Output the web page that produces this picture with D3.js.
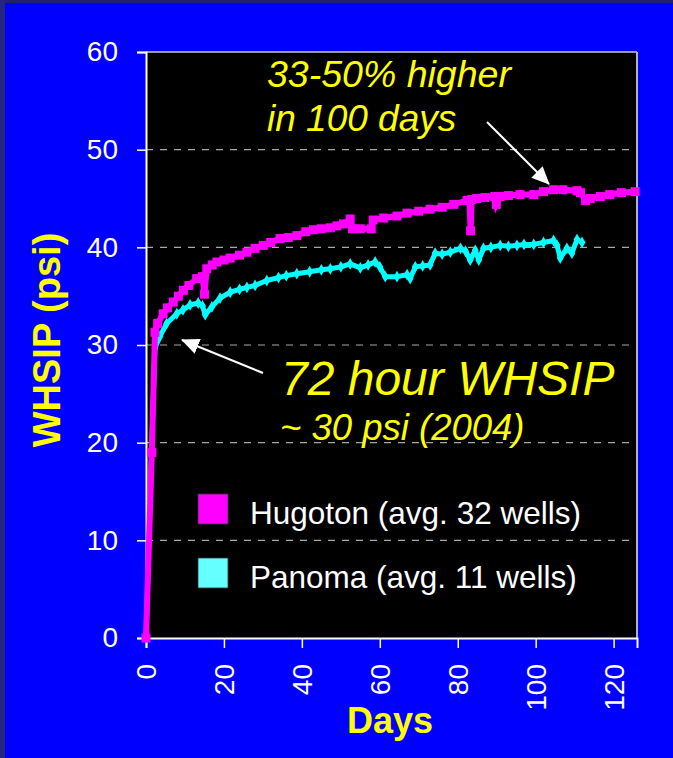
<!DOCTYPE html>
<html>
<head>
<meta charset="utf-8">
<script src="https://cdn.jsdelivr.net/npm/d3@7"></script>
<style>
  body { margin: 0; background: #0000ff; }
  svg { display: block; }
  text { font-family: "Liberation Sans", Arial, sans-serif; }
</style>
</head>
<body>
<div id="chart"></div>
<script>
// Days / WHSIP values
var hugotonDays = [0, 1.5, 2.3, 3, 4.4, 5.5, 7, 8.3, 9.6, 11, 13, 14.5, 15, 15.6, 17, 18.2, 20, 21.6, 24, 25.9,
  28, 30.1, 32, 34.4, 36.5, 38.7, 41, 43, 45, 47.3, 49, 50.7, 52.4, 53, 55, 57.8, 58.3, 61, 64.4, 67,
  70, 72.9, 76, 79, 82.4, 83, 83.3, 83.6, 84.9, 87, 89.5, 89.9, 90.9, 93, 96, 99.5, 102, 104.6, 107, 110.6,
  111.5, 112.8, 114, 116.6, 119, 122, 125.5]
var hugotonPsi = [0, 19, 31.3, 32.2, 33.2, 33.8, 34.4, 35.0, 35.6, 36.1, 36.8, 37.0, 35.2, 37.8, 38.2, 38.5, 38.7, 38.9, 39.2, 39.5,
  39.9, 40.2, 40.5, 40.9, 41.0, 41.2, 41.6, 41.8, 41.9, 42.0, 42.2, 42.4, 42.9, 41.9, 41.9, 41.9, 42.8, 43.0, 43.2, 43.5,
  43.7, 43.9, 44.1, 44.4, 44.8, 44.8, 41.7, 44.9, 45.0, 45.1, 45.2, 44.4, 45.2, 45.3, 45.4, 45.4, 45.7, 45.9, 45.9, 45.8,
  45.6, 44.8, 45.0, 45.2, 45.4, 45.6, 45.7]

var panomaDays = [0, 1, 2.3, 3.6, 5.3, 7.9, 9.5, 11.3, 13.4, 14.5, 15.2, 16.9, 19, 21.6, 24, 25.9, 28, 31, 34, 36,
  38.7, 42, 45, 47.3, 50, 52.4, 55, 57, 58.8, 60, 61.4, 64.4, 67, 67.8, 69.1, 71, 72.9, 74.2, 76, 78.1,
  80.7, 82, 83.2, 84.5, 85.4, 86.6, 88.5, 90.9, 93, 95.2, 97, 99.5, 102, 104.6, 105.5, 106.3, 108, 109.3, 110.6, 111.9]
var panomaPsi = [0, 14, 29.7, 30.9, 32.2, 33.2, 33.6, 34.1, 34.3, 34.0, 33.1, 33.9, 34.8, 35.4, 35.7, 35.9, 36.1, 36.6, 36.9, 37.1,
  37.3, 37.5, 37.7, 37.8, 38.0, 38.3, 37.9, 38.2, 38.5, 38.0, 37.0, 37.0, 37.2, 36.8, 38.0, 38.1, 38.2, 39.4, 39.3, 39.5,
  39.9, 39.6, 38.7, 39.7, 38.7, 39.9, 40.0, 40.2, 40.1, 40.2, 40.3, 40.3, 40.5, 40.7, 40.2, 38.9, 39.9, 39.4, 40.8, 40.5]

var yTicks = [0, 10, 20, 30, 40, 50, 60]
var xTicks = [0, 20, 40, 60, 80, 100, 120]
var legendNames = ["Hugoton (avg. 32 wells)", "Panoma (avg. 11 wells)"]

var W = 673, H = 758
var svg = d3.select("#chart").append("svg")
  .attr("width", W)
  .attr("height", H)

// dark frame on top and left edge
svg.append("rect").attr("width", W).attr("height", H).attr("fill", "#0000ff")
svg.append("rect").attr("width", W).attr("height", 3).attr("fill", "#22226e")
svg.append("rect").attr("width", 5).attr("height", H).attr("fill", "#26267e")

var x = d3.scaleLinear().domain([0, 126]).range([146, 637])
var y = d3.scaleLinear().domain([0, 60]).range([638, 52])

// plot area
svg.append("rect")
  .attr("x", x(0)).attr("y", y(60))
  .attr("width", x(126) - x(0)).attr("height", y(0) - y(60))
  .attr("fill", "#000")

// grid lines
svg.append("g").selectAll("line")
  .data(yTicks.filter(function (d) { return d > 0 && d < 60 }))
  .enter().append("line")
  .attr("x1", x(0)).attr("x2", x(126))
  .attr("y1", function (d) { return y(d) }).attr("y2", function (d) { return y(d) })
  .attr("stroke", "#a8a8a8").attr("stroke-width", 1.2)
  .attr("stroke-dasharray", "7,7")

// top and right border
svg.append("line").attr("x1", x(0)).attr("x2", x(126)).attr("y1", y(60)).attr("y2", y(60))
  .attr("stroke", "#c8c8c8").attr("stroke-width", 1.5)
svg.append("line").attr("x1", x(126)).attr("x2", x(126)).attr("y1", y(60)).attr("y2", y(0))
  .attr("stroke", "#b4b4b4").attr("stroke-width", 2)

// axes
var yAxis = d3.axisLeft(y).tickValues(yTicks).tickSize(9).tickPadding(19)
var gy = svg.append("g").attr("transform", "translate(" + x(0) + ",0)").call(yAxis)
gy.select(".domain").attr("stroke", "#fff").attr("stroke-width", 2)
gy.selectAll(".tick line").attr("stroke", "#fff").attr("stroke-width", 1.5)
gy.selectAll("text").attr("fill", "#fff").attr("font-size", 28)
  .attr("font-family", "Liberation Sans, Arial, sans-serif")

var xAxis = d3.axisBottom(x).tickValues(xTicks).tickSize(10)
var gx = svg.append("g").attr("transform", "translate(0," + y(0) + ")").call(xAxis)
gx.select(".domain").attr("stroke", "#fff").attr("stroke-width", 2)
gx.selectAll(".tick line").attr("stroke", "#fff").attr("stroke-width", 1.5)
gx.selectAll("text")
  .attr("fill", "#fff").attr("font-size", 28)
  .attr("font-family", "Liberation Sans, Arial, sans-serif")
  .attr("transform", "rotate(-90)")
  .attr("x", -26).attr("y", 0).attr("dy", "0.35em")
  .attr("text-anchor", "end")

// series
var hugoton = hugotonDays.map(function (d, i) { return [d, hugotonPsi[i]] })
var panoma = panomaDays.map(function (d, i) { return [d, panomaPsi[i]] })

var line = d3.line()
  .x(function (d) { return x(d[0]) })
  .y(function (d) { return y(d[1]) })

svg.append("path").datum(panoma)
  .attr("d", line).attr("fill", "none")
  .attr("stroke", "#00ffff").attr("stroke-width", 5).attr("stroke-linejoin", "round")
svg.append("g").selectAll("path")
  .data(panoma).enter().append("path")
  .attr("d", d3.symbol().type(d3.symbolDiamond).size(40))
  .attr("transform", function (d) { return "translate(" + x(d[0]) + "," + y(d[1]) + ")" })
  .attr("fill", "#00ffff")

svg.append("path").datum(hugoton)
  .attr("d", line).attr("fill", "none")
  .attr("stroke", "#ff00ff").attr("stroke-width", 6).attr("stroke-linejoin", "miter")
svg.append("g").selectAll("rect")
  .data(hugoton).enter().append("rect")
  .attr("x", function (d) { return x(d[0]) - 4.5 })
  .attr("y", function (d) { return y(d[1]) - 4.5 })
  .attr("width", 9).attr("height", 9)
  .attr("fill", "#ff00ff")

// legend
var legendColors = ["#ff00ff", "#66ffff"]
var lg = svg.append("g").selectAll("g")
  .data(legendNames).enter().append("g")
  .attr("transform", function (d, i) { return "translate(198," + (494 + i * 64) + ")" })
lg.append("rect")
  .attr("width", 30).attr("height", 30)
  .attr("fill", function (d, i) { return legendColors[i] })
  .attr("stroke", "#333").attr("stroke-width", 0.8)
lg.append("text")
  .attr("x", 52).attr("y", 30)
  .attr("fill", "#fff").attr("font-size", 31.5)
  .text(function (d) { return d })

// annotations
var notes = svg.append("g").attr("fill", "#ffff00").attr("font-style", "italic")
notes.append("text").attr("x", 267).attr("y", 87).attr("font-size", 37.5).text("33-50% higher")
notes.append("text").attr("x", 267).attr("y", 131).attr("font-size", 37).text("in 100 days")
notes.append("text").attr("x", 281).attr("y", 395).attr("font-size", 48).text("72 hour WHSIP")
notes.append("text").attr("x", 280).attr("y", 440).attr("font-size", 36.5).text("~ 30 psi (2004)")

// arrows
var defs = svg.append("defs")
defs.append("marker")
  .attr("id", "head")
  .attr("markerUnits", "userSpaceOnUse")
  .attr("viewBox", "0 -8 18 16")
  .attr("refX", 17).attr("refY", 0)
  .attr("markerWidth", 18).attr("markerHeight", 16)
  .attr("orient", "auto")
  .append("path").attr("d", "M0,-8L18,0L0,8Z").attr("fill", "#fff")

svg.append("line").attr("x1", 487).attr("y1", 122).attr("x2", 549).attr("y2", 184)
  .attr("stroke", "#fff").attr("stroke-width", 2).attr("marker-end", "url(#head)")
svg.append("line").attr("x1", 263).attr("y1", 373).attr("x2", 182).attr("y2", 340)
  .attr("stroke", "#fff").attr("stroke-width", 2).attr("marker-end", "url(#head)")

// axis titles
svg.append("text")
  .attr("x", 390).attr("y", 733)
  .attr("text-anchor", "middle")
  .attr("fill", "#ffff00").attr("font-weight", "bold").attr("font-size", 36)
  .text("Days")

svg.append("text")
  .attr("transform", "translate(60,340) rotate(-90)")
  .attr("text-anchor", "middle")
  .attr("fill", "#ffff00").attr("font-weight", "bold").attr("font-size", 38)
  .text("WHSIP (psi)")
</script>
</body>
</html>
